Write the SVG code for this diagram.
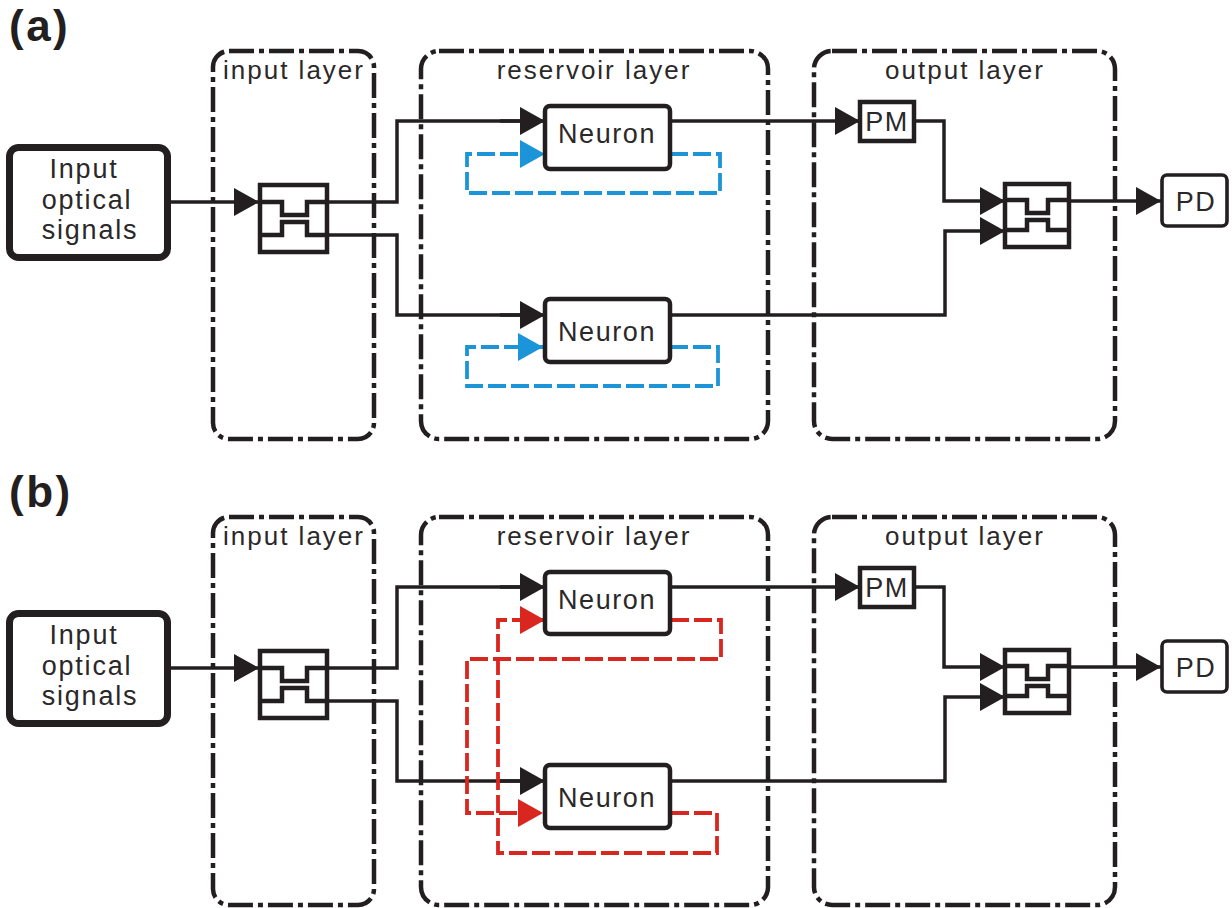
<svg xmlns="http://www.w3.org/2000/svg" width="1232" height="908" viewBox="0 0 1232 908">
<style>
text{font-family:"Liberation Sans",Arial,sans-serif;fill:#2b2829;text-anchor:middle}
.panel{font-weight:bold;font-size:44px;text-anchor:start;letter-spacing:2.500px;fill:#231f20}
.lab{font-size:26px;letter-spacing:2px}
.neu{font-size:27px;letter-spacing:1.6px}
.big{font-size:27px;letter-spacing:1.8px}
.small{font-size:27px;letter-spacing:1.500px}
.layer{fill:none;stroke:#231f20;stroke-width:4.500;stroke-dasharray:25 5 5 5}
.box{fill:#fff;stroke:#231f20;stroke-width:4.500}
.thin{fill:#fff;stroke:#231f20;stroke-width:3.600}
.input{fill:#fff;stroke:#231f20;stroke-width:7}
.inner{fill:none;stroke:#231f20;stroke-width:4.500}
.w{fill:none;stroke:#231f20;stroke-width:3.500}
.k{marker-end:url(#ak)}
.blue{fill:none;stroke:#1c95d8;stroke-width:3.800;stroke-dasharray:18 5;marker-end:url(#ab)}
.red{fill:none;stroke:#d9261f;stroke-width:3.800;stroke-dasharray:18 5;marker-end:url(#ar)}
</style>
<defs>
<marker id="ak" markerUnits="userSpaceOnUse" markerWidth="26" markerHeight="28" refX="25" refY="14" orient="auto"><path d="M0 0L25 14L0 28Z" fill="#231f20"/></marker>
<marker id="ab" markerUnits="userSpaceOnUse" markerWidth="26" markerHeight="28" refX="25" refY="14" orient="auto"><path d="M0 0L25 14L0 28Z" fill="#1c95d8"/></marker>
<marker id="ar" markerUnits="userSpaceOnUse" markerWidth="26" markerHeight="28" refX="25" refY="14" orient="auto"><path d="M0 0L25 14L0 28Z" fill="#d9261f"/></marker>
</defs>
<rect width="1232" height="908" fill="#fff"/>
<text class="panel" x="9" y="41">(a)</text>
<text class="panel" x="9" y="507">(b)</text>

<g id="a-input-layer"><rect class="layer" x="213" y="51" width="161" height="388" rx="16"/><text class="lab" x="294" y="79">input layer</text></g>
<g id="a-reservoir-layer"><rect class="layer" x="421" y="51" width="347" height="388" rx="18"/><text class="lab" x="594" y="79">reservoir layer</text></g>
<g id="a-output-layer"><rect class="layer" x="814" y="51" width="301" height="388" rx="18"/><text class="lab" x="965" y="79">output layer</text></g>
<g id="b-input-layer"><rect class="layer" x="213" y="517" width="161" height="388" rx="16"/><text class="lab" x="294" y="545">input layer</text></g>
<g id="b-reservoir-layer"><rect class="layer" x="421" y="517" width="347" height="388" rx="18"/><text class="lab" x="594" y="545">reservoir layer</text></g>
<g id="b-output-layer"><rect class="layer" x="814" y="517" width="301" height="388" rx="18"/><text class="lab" x="965" y="545">output layer</text></g>

<g id="connectors">
<path class="w k" d="M168 202H259"/>
<path class="w" d="M328 202H397V121H520"/><path class="w k" d="M500 121H545"/>
<path class="w" d="M328 235H397V315H520"/><path class="w k" d="M500 315H545"/>
<path class="w k" d="M670 121H860"/>
<path class="w k" d="M914 121H944V201H1005"/>
<path class="w k" d="M670 315H945V231H1005"/>
<path class="w k" d="M1069 201H1161"/>
<path class="blue" d="M670 154H720V193H467V154H545"/>
<path class="blue" d="M670 347H718V386H467V347H543"/>
<path class="w k" d="M168 668H259"/>
<path class="w" d="M328 668H397V587H520"/><path class="w k" d="M500 587H545"/>
<path class="w" d="M328 701H397V781H520"/><path class="w k" d="M500 781H545"/>
<path class="w k" d="M670 587H860"/>
<path class="w k" d="M914 587H944V667H1005"/>
<path class="w k" d="M670 781H945V697H1005"/>
<path class="w k" d="M1069 667H1161"/>
<path class="red" d="M671 620H721V659H467V813H543"/>
<path class="red" d="M671 813H717V853H498V620H545"/>
</g>

<g id="a-input"><rect class="input" x="9.500" y="147.500" width="158" height="110" rx="9"/><text class="big" x="84" y="178">Input</text><text class="big" x="87" y="209">optical</text><text class="big" x="90" y="239">signals</text></g>
<g id="a-splitter"><rect class="inner" x="260" y="185" width="67" height="67"/><path class="inner" d="M260 202H282V215H307V202H328M260 235H282V222H307V235H328"/></g>
<g id="a-neuron1"><rect class="box" x="545" y="106" width="125" height="63" rx="5"/><text class="neu" x="607" y="143">Neuron</text></g>
<g id="a-neuron2"><rect class="box" x="545" y="299" width="125" height="63" rx="5"/><text class="neu" x="607" y="341">Neuron</text></g>
<g id="a-pm"><rect class="box" x="860" y="102" width="54" height="39"/><text class="small" x="887" y="131">PM</text></g>
<g id="a-combiner"><rect class="inner" x="1005" y="184" width="64" height="63"/><path class="inner" d="M1005 200H1027V213H1048V200H1069M1005 230H1027V220H1048V230H1069"/></g>
<g id="a-pd"><rect class="thin" x="1162" y="175" width="65" height="51" rx="5"/><text class="small" x="1196" y="211">PD</text></g>

<g id="b-input"><rect class="input" x="9.500" y="613.500" width="158" height="110" rx="9"/><text class="big" x="84" y="644">Input</text><text class="big" x="87" y="675">optical</text><text class="big" x="90" y="705">signals</text></g>
<g id="b-splitter"><rect class="inner" x="260" y="651" width="67" height="67"/><path class="inner" d="M260 668H282V681H307V668H328M260 701H282V688H307V701H328"/></g>
<g id="b-neuron1"><rect class="box" x="545" y="572" width="125" height="62" rx="5"/><text class="neu" x="607" y="609">Neuron</text></g>
<g id="b-neuron2"><rect class="box" x="545" y="765" width="125" height="63" rx="5"/><text class="neu" x="607" y="807">Neuron</text></g>
<g id="b-pm"><rect class="box" x="860" y="568" width="54" height="39"/><text class="small" x="887" y="597">PM</text></g>
<g id="b-combiner"><rect class="inner" x="1005" y="650" width="64" height="63"/><path class="inner" d="M1005 666H1027V679H1048V666H1069M1005 696H1027V686H1048V696H1069"/></g>
<g id="b-pd"><rect class="thin" x="1162" y="641" width="65" height="51" rx="5"/><text class="small" x="1196" y="677">PD</text></g>
</svg>
